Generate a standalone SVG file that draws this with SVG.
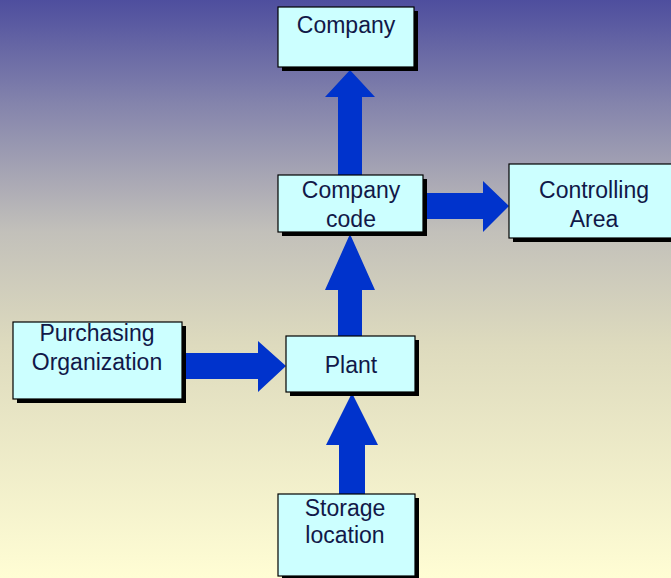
<svg xmlns="http://www.w3.org/2000/svg" width="671" height="578" viewBox="0 0 671 578">
<defs>
<linearGradient id="bg" x1="0" y1="0" x2="0" y2="1">
<stop offset="0" stop-color="#4E4E9E"/>
<stop offset="0.18" stop-color="#8484AC"/>
<stop offset="0.4" stop-color="#C2C0BA"/>
<stop offset="0.6" stop-color="#DEDBBE"/>
<stop offset="1" stop-color="#FFFDD4"/>
</linearGradient>
<style>
.shadow{fill:#000}
.box{fill:#CCFFFF;stroke:#000;stroke-width:1.2}
.lbl{font-family:"Liberation Sans",Arial,sans-serif;font-size:23px;fill:#111848;text-anchor:middle}
.arr{fill:#0033CC}
</style>
</defs>
<rect width="671" height="578" fill="url(#bg)"/>
<g id="connectors">
<polygon class="arr" points="338,175 338,97 325,97 350,70 375,97 362,97 362,175"/>
<polygon class="arr" points="338,336 338,290 325,290 350,234 375,290 362,290 362,336"/>
<polygon class="arr" points="339,494 339,445 326,445 352,393 378,445 365,445 365,494"/>
<polygon class="arr" points="423,193 483,193 483,181 509,206 483,232 483,219 423,219"/>
<polygon class="arr" points="182,353 258,353 258,341 286,366 258,392 258,379 182,379"/>
</g>
<g id="company">
<rect class="shadow" x="282" y="11" width="136" height="60"/>
<rect class="box" x="278" y="7" width="136" height="60"/>
<text class="lbl" x="346" y="33">Company</text>
</g>
<g id="company-code">
<rect class="shadow" x="282" y="179" width="145" height="57"/>
<rect class="box" x="278" y="175" width="145" height="57"/>
<text class="lbl" x="351" y="198">Company</text>
<text class="lbl" x="351" y="227">code</text>
</g>
<g id="controlling-area">
<rect class="shadow" x="513" y="168" width="162" height="74"/>
<rect class="box" x="509" y="164" width="165" height="74"/>
<text class="lbl" x="594" y="198">Controlling</text>
<text class="lbl" x="594" y="227">Area</text>
</g>
<g id="purchasing-organization">
<rect class="shadow" x="17" y="326" width="169" height="77"/>
<rect class="box" x="13" y="322" width="169" height="77"/>
<text class="lbl" x="97" y="341">Purchasing</text>
<text class="lbl" x="97" y="370">Organization</text>
</g>
<g id="plant">
<rect class="shadow" x="290" y="340" width="129" height="56"/>
<rect class="box" x="286" y="336" width="129" height="56"/>
<text class="lbl" x="351" y="373">Plant</text>
</g>
<g id="storage-location">
<rect class="shadow" x="282" y="498" width="137" height="82"/>
<rect class="box" x="278" y="494" width="137" height="82"/>
<text class="lbl" x="345" y="516">Storage</text>
<text class="lbl" x="345" y="543">location</text>
</g>
</svg>
